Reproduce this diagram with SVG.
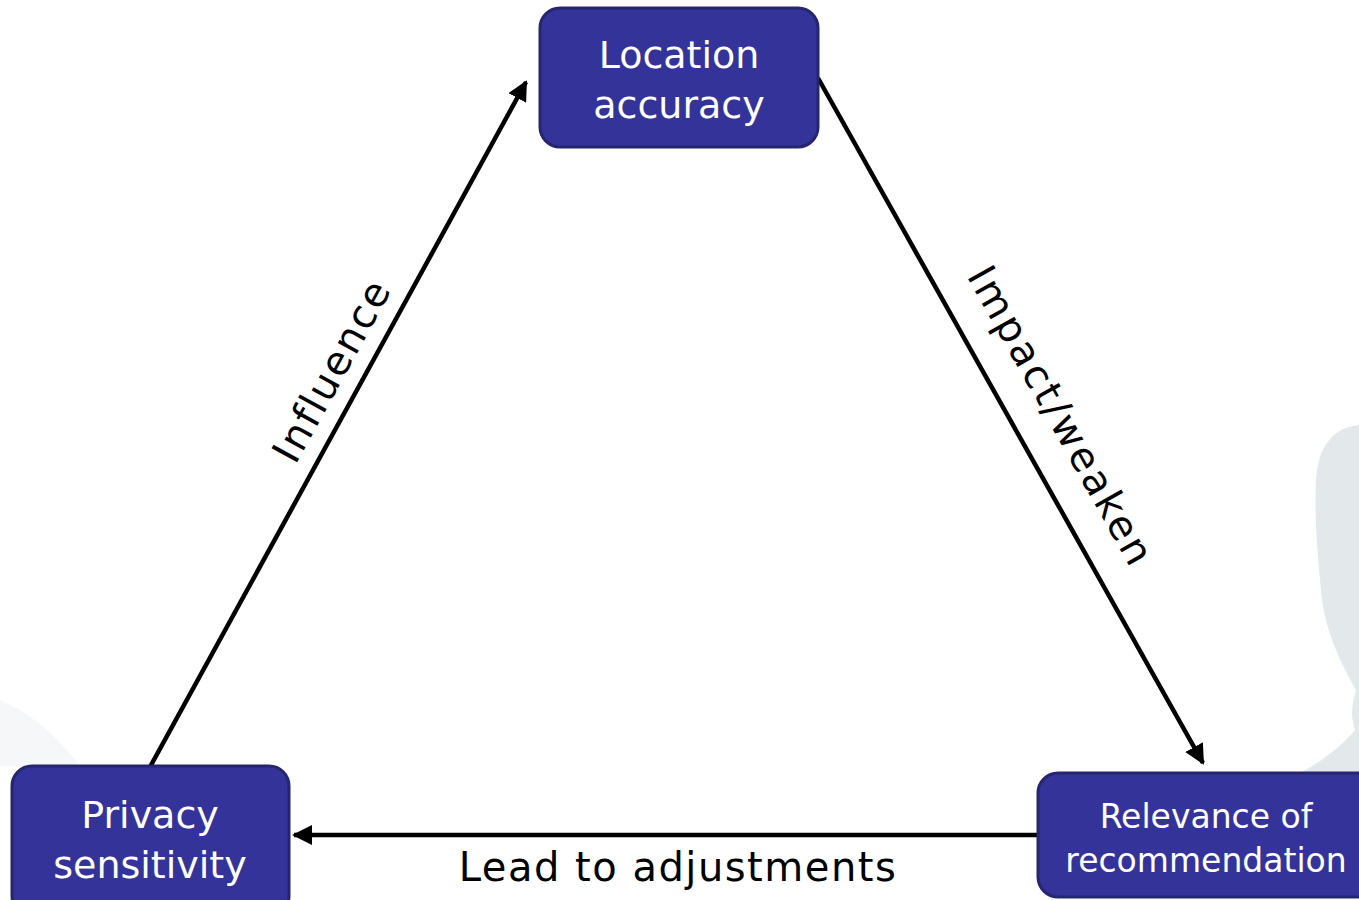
<svg xmlns="http://www.w3.org/2000/svg" width="1359" height="900" viewBox="0 0 1359 900">
<defs>
<style>
.box{fill:#343399;stroke:#26266e;stroke-width:3}
.nt{font-family:"DejaVu Sans",sans-serif;fill:#ffffff;text-anchor:middle}
.lbl{font-family:"DejaVu Sans",sans-serif;fill:#000000;text-anchor:middle;font-size:40px}
.edge{stroke:#000;stroke-width:4.5;fill:none}
</style>
<marker id="ah" viewBox="0 0 10 10" refX="9" refY="5" markerWidth="4.5" markerHeight="4.5" orient="auto" markerUnits="strokeWidth">
<path d="M0,0 L10,5 L0,10 z" fill="#000"/>
</marker>
</defs>
<rect width="1359" height="900" fill="#ffffff"/>
<g id="background">
<path d="M1359,425 C1330,428 1318,450 1316,480 C1314,520 1318,560 1322,600 C1328,640 1345,670 1356,690 C1352,705 1350,715 1355,730 C1330,760 1290,780 1262,790 L1259,800 L1359,800 Z" fill="#e3e8ea"/>
<path d="M0,700 C35,715 60,740 80,766 L0,766 Z" fill="#f6f7f9"/>
</g>
<g id="connectors">
<line class="edge" x1="150" y1="767" x2="526" y2="82" marker-end="url(#ah)"/>
<line class="edge" x1="818" y1="78" x2="1203" y2="763" marker-end="url(#ah)"/>
<line class="edge" x1="1038" y1="835" x2="294" y2="835" marker-end="url(#ah)"/>
<text class="lbl" transform="translate(344,377) rotate(-61.25)" letter-spacing="2">Influence</text>
<text class="lbl" transform="translate(1049,423) rotate(60.7)" letter-spacing="2.5">Impact/weaken</text>
<text class="lbl" x="678" y="881" letter-spacing="1.5">Lead to adjustments</text>
</g>
<g id="node-location">
<rect class="box" x="540" y="8" width="278" height="139" rx="20"/>
<text class="nt" x="679" y="68" style="font-size:38px">Location</text>
<text class="nt" x="679" y="118" style="font-size:38px">accuracy</text>
</g>
<g id="node-privacy">
<rect class="box" x="12" y="766" width="277" height="150" rx="20"/>
<text class="nt" x="150" y="828" style="font-size:38px">Privacy</text>
<text class="nt" x="150" y="878" style="font-size:38px">sensitivity</text>
</g>
<g id="node-relevance">
<rect class="box" x="1038" y="773" width="340" height="124" rx="20"/>
<text class="nt" x="1206" y="828" style="font-size:33px">Relevance of</text>
<text class="nt" x="1206" y="872" style="font-size:33px">recommendation</text>
</g>
</svg>
